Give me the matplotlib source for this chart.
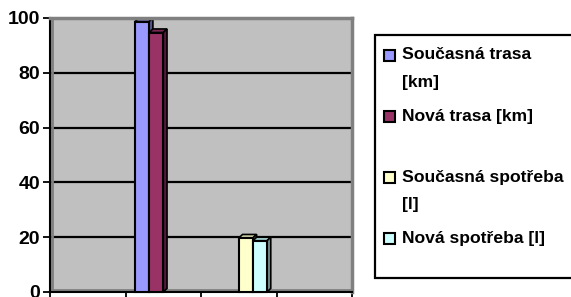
import matplotlib
matplotlib.use('Agg')
import matplotlib.pyplot as plt
from matplotlib.patches import Polygon, Rectangle
import matplotlib.colors as mcolors
import numpy as np

# data
categories = ['', '', '', '']
series_names = ['Současná trasa\n[km]', 'Nová trasa [km]',
                'Současná spotřeba\n[l]', 'Nová spotřeba [l]']
trasa_soucasna = [0, 100, 0, 0]
trasa_nova = [0, 96, 0, 0]
spotreba_soucasna = [0, 0, 21, 0]
spotreba_nova = [0, 0, 20, 0]
series_values = [trasa_soucasna, trasa_nova, spotreba_soucasna, spotreba_nova]
colors = ['#9999FF', '#993366', '#FFFFCC', '#CCFFFF']
yticks = [0, 20, 40, 60, 80, 100]

plt.rcParams['font.family'] = ['Liberation Sans', 'DejaVu Sans']

W, H = 571, 297
fig = plt.figure(figsize=(W / 100, H / 100), dpi=100)
ax = fig.add_axes([50 / W, 1 - 292 / H, 302 / W, 274 / H])
ax.set_facecolor('#C0C0C0')

x = np.arange(len(categories))
w = 0.187
dx, dy = 0.05, 1.3  # fake 3D depth


def shade(c, f):
    r, g, b = mcolors.to_rgb(c)
    return (r * f, g * f, b * f)


for i, (vals, col) in enumerate(zip(series_values, colors)):
    pos = x + (i - 1.5) * w
    for xp, v in zip(pos, vals):
        if v <= 0:
            continue
        x0, x1 = xp - w / 2, xp + w / 2
        v0 = v - dy  # front face sits a little lower than the back wall
        ax.bar(xp, v0, w, color=col, edgecolor='black', linewidth=1.5,
               zorder=3, clip_on=False)
        top = Polygon([(x0, v0), (x0 + dx, v), (x1 + dx, v), (x1, v0)],
                      closed=True, facecolor=shade(col, 0.8), edgecolor='black',
                      linewidth=1.2, zorder=2, clip_on=False)
        side = Polygon([(x1, 0), (x1, v0), (x1 + dx, v), (x1 + dx, dy)],
                       closed=True, facecolor=shade(col, 0.55), edgecolor='black',
                       linewidth=1.2, zorder=2, clip_on=False)
        ax.add_patch(top)
        ax.add_patch(side)

ax.set_xlim(-0.5, len(categories) - 0.5)
ax.set_ylim(0, 100)
ax.set_yticks(yticks)
ax.set_yticklabels([str(t) for t in yticks], fontsize=14, fontweight='bold')
ax.set_xticks(np.arange(len(categories) + 1) - 0.5)
ax.set_xticklabels([])
ax.tick_params(axis='both', direction='out', length=5, width=1.3, color='black', pad=2)
ax.yaxis.grid(True, color='black', linewidth=1.6, zorder=1)
ax.set_axisbelow(True)
# 3D wall/floor edges
ax.axhline(0.8, color='#808080', linewidth=2, zorder=1.5)
ax.axvline(-0.47, color='#808080', linewidth=2, zorder=1.5)

for s in ['left', 'bottom']:
    ax.spines[s].set_color('black')
    ax.spines[s].set_linewidth(1.5)
for s in ['top', 'right']:
    ax.spines[s].set_color('#808080')
    ax.spines[s].set_linewidth(2.5)

# legend, drawn by hand to follow the Excel layout
fig.add_artist(Rectangle((375 / W, 1 - 278 / H), 200 / W, 243 / H,
                         transform=fig.transFigure, facecolor='white',
                         edgecolor='black', linewidth=1.6, zorder=0))
slot0, slot_h, line_h = 55, 61.3, 27
for i, (name, col) in enumerate(zip(series_names, colors)):
    yc = slot0 + i * slot_h
    fig.add_artist(Rectangle((384 / W, 1 - (yc + 5.5) / H), 11 / W, 11 / H,
                             transform=fig.transFigure, facecolor=col,
                             edgecolor='black', linewidth=1.5))
    for j, line in enumerate(name.split('\n')):
        fig.text(402 / W, 1 - (yc + j * line_h) / H, line, fontsize=12.6,
                 fontweight='bold', va='center', ha='left')

fig.savefig('out.png', dpi=100)
